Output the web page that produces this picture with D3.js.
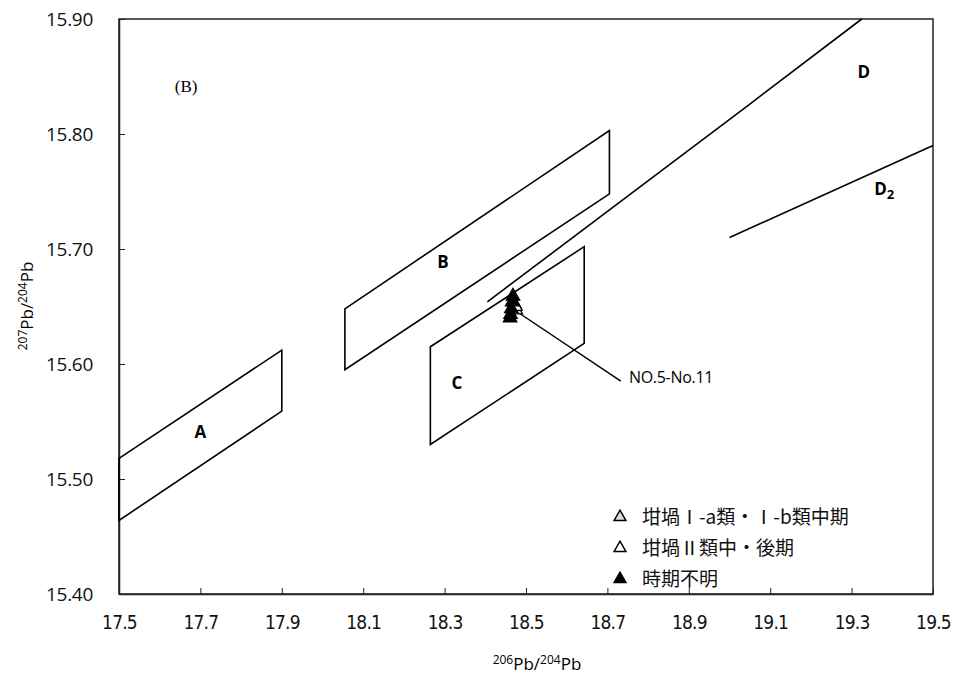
<!DOCTYPE html>
<html>
<head>
<meta charset="utf-8">
<script src="https://cdn.jsdelivr.net/npm/d3@7"></script>
<style>
  body { margin: 0; background: #fff; }
  .tick text.xl { font-family: 'Liberation Sans Narrow', 'DejaVu Sans Condensed', sans-serif; font-stretch: condensed; }
  .lbl { font-family: 'Open Sans', 'Noto Sans', sans-serif; font-weight: bold; font-size: 17px; }
</style>
</head>
<body>
<svg id="chart"></svg>
<script>
// regions as [206Pb/204Pb, 207Pb/204Pb]
const regionA = [[17.5, 15.518], [17.9, 15.612], [17.9, 15.559], [17.5, 15.464]];
const regionB = [[18.055, 15.648], [18.705, 15.803], [18.705, 15.748], [18.055, 15.595]];
const regionC = [[18.265, 15.615], [18.643, 15.702], [18.643, 15.618], [18.265, 15.530]];
const lineD = [[18.405, 15.654], [19.05, 15.826], [19.325, 15.90]];
const lineD2 = [[19.0, 15.710], [19.5, 15.790]];

// samples NO.5-No.11
const seriesIab = [[18.472, 15.652], [18.475, 15.647]];
const seriesII = [[18.474, 15.650]];
const seriesUnknown = [[18.468, 15.659], [18.466, 15.654], [18.464, 15.648], [18.462, 15.643], [18.461, 15.640]];

const legendLabels = ['坩堝Ⅰ-a類・Ⅰ-b類中期', '坩堝Ⅱ類中・後期', '時期不明'];
const xTicks = [17.5, 17.7, 17.9, 18.1, 18.3, 18.5, 18.7, 18.9, 19.1, 19.3, 19.5];
const yTicks = [15.40, 15.50, 15.60, 15.70, 15.80, 15.90];

const W = 957, H = 680;
const margin = {top: 19, right: 24, bottom: 86, left: 119};
const width = W - margin.left - margin.right;
const height = H - margin.top - margin.bottom;

const x = d3.scaleLinear().domain([17.5, 19.5]).range([0, width]);
const y = d3.scaleLinear().domain([15.40, 15.90]).range([height, 0]);

const svg = d3.select('#chart')
    .attr('width', W)
    .attr('height', H);

const chart = svg.append('g')
    .attr('transform', `translate(${margin.left},${margin.top})`);

// frame
chart.append('rect')
    .attr('width', width)
    .attr('height', height)
    .attr('fill', 'none')
    .attr('stroke', '#222')
    .attr('stroke-width', 1.5);

const xAxis = d3.axisBottom(x)
    .tickValues(xTicks)
    .tickFormat(d3.format('.1f'))
    .tickSizeInner(-6)
    .tickSizeOuter(0)
    .tickPadding(22);

const yAxis = d3.axisLeft(y)
    .tickValues(yTicks)
    .tickFormat(d3.format('.2f'))
    .tickSizeInner(-6)
    .tickSizeOuter(0)
    .tickPadding(26);

const gx = chart.append('g')
    .attr('transform', `translate(0,${height})`)
    .call(xAxis);
gx.select('.domain').attr('stroke', '#222').attr('stroke-width', 1.5);
gx.selectAll('.tick line').attr('stroke', '#222');
gx.selectAll('.tick text')
    .attr('class', 'xl')
    .attr('font-size', 19)
    .attr('letter-spacing', -0.8)
    .attr('fill', '#111');

const gy = chart.append('g').call(yAxis);
gy.select('.domain').attr('stroke', '#222').attr('stroke-width', 1.5);
gy.selectAll('.tick line').attr('stroke', '#222');
gy.selectAll('.tick text')
    .attr('font-family', "'Open Sans', 'Noto Sans', sans-serif")
    .attr('font-size', 19)
    .attr('letter-spacing', -0.3)
    .attr('dy', '0.36em')
    .attr('fill', '#111');

// axis titles
const xt = svg.append('text')
    .attr('x', 537)
    .attr('y', 670)
    .attr('text-anchor', 'middle')
    .attr('font-family', "'Open Sans', 'Noto Sans', sans-serif")
    .attr('font-size', 17);
xt.append('tspan').attr('font-size', 12).attr('dy', -6).text('206');
xt.append('tspan').attr('dy', 6).text('Pb/');
xt.append('tspan').attr('font-size', 12).attr('dy', -6).text('204');
xt.append('tspan').attr('dy', 6).text('Pb');

const yt = svg.append('text')
    .attr('transform', `translate(33,306) rotate(-90)`)
    .attr('text-anchor', 'middle')
    .attr('font-family', "'Open Sans', 'Noto Sans', sans-serif")
    .attr('font-size', 17);
yt.append('tspan').attr('font-size', 12).attr('dy', -6).text('207');
yt.append('tspan').attr('dy', 6).text('Pb/');
yt.append('tspan').attr('font-size', 12).attr('dy', -6).text('204');
yt.append('tspan').attr('dy', 6).text('Pb');

// regions
const line = d3.line().x(d => x(d[0])).y(d => y(d[1]));
[regionA, regionB, regionC].forEach(r => {
  chart.append('path')
      .attr('d', line(r) + 'Z')
      .attr('fill', 'none')
      .attr('stroke', '#000')
      .attr('stroke-width', 1.6);
});
[lineD, lineD2].forEach(r => {
  chart.append('path')
      .attr('d', line(r))
      .attr('fill', 'none')
      .attr('stroke', '#000')
      .attr('stroke-width', 1.6);
});

// region labels
const labels = [
  {t: 'A', v: [17.7, 15.541]},
  {t: 'B', v: [18.296, 15.689]},
  {t: 'C', v: [18.33, 15.584]},
  {t: 'D', v: [19.33, 15.854]},
];
labels.forEach(l => {
  chart.append('text')
      .attr('class', 'lbl')
      .attr('x', x(l.v[0]))
      .attr('y', y(l.v[1]))
      .attr('text-anchor', 'middle')
      .attr('dy', '0.36em')
      .text(l.t);
});
const d2 = chart.append('text')
    .attr('class', 'lbl')
    .attr('x', x(19.38))
    .attr('y', y(15.752))
    .attr('text-anchor', 'middle')
    .attr('dy', '0.36em');
d2.append('tspan').text('D');
d2.append('tspan').attr('font-size', 13).attr('dy', 4).text('2');

chart.append('text')
    .attr('x', x(17.665))
    .attr('y', y(15.842))
    .attr('text-anchor', 'middle')
    .attr('dy', '0.36em')
    .attr('font-family', "'Liberation Serif', serif")
    .attr('font-size', 17)
    .text('(B)');

// pointer to the samples
chart.append('line')
    .attr('x1', x(18.48))
    .attr('y1', y(15.645))
    .attr('x2', x(18.733))
    .attr('y2', y(15.5852))
    .attr('stroke', '#000')
    .attr('stroke-width', 1.5);
chart.append('text')
    .attr('x', x(18.753))
    .attr('y', y(15.5887))
    .attr('dy', '0.36em')
    .attr('font-family', "'Open Sans', 'Noto Sans', sans-serif")
    .attr('font-size', 16)
    .attr('letter-spacing', -0.3)
    .text('NO.5-No.11');

// samples
const tri = d3.symbol().type(d3.symbolTriangle).size(80);
const styles = [
  {data: seriesIab, fill: '#ddd', stroke: '#000'},
  {data: seriesII, fill: '#fff', stroke: '#000'},
  {data: seriesUnknown, fill: '#000', stroke: '#000'},
];
styles.forEach(s => {
  chart.selectAll(null)
      .data(s.data)
    .enter().append('path')
      .attr('d', tri)
      .attr('transform', d => `translate(${x(d[0])},${y(d[1])})`)
      .attr('fill', s.fill)
      .attr('stroke', s.stroke)
      .attr('stroke-width', 1.2);
});

// legend
const legend = svg.append('g').attr('transform', 'translate(620,517)');
styles.forEach((s, i) => {
  const g = legend.append('g').attr('transform', `translate(0,${i * 31})`);
  g.append('path')
      .attr('d', d3.symbol().type(d3.symbolTriangle).size(60))
      .attr('fill', s.fill)
      .attr('stroke', '#000')
      .attr('stroke-width', 1.5);
  g.append('text')
      .attr('x', 22)
      .attr('dy', '0.36em')
      .attr('font-family', "'Noto Sans CJK JP', sans-serif")
      .attr('font-size', 19)
      .attr('fill', '#111')
      .text(legendLabels[i]);
});
</script>
</body>
</html>
